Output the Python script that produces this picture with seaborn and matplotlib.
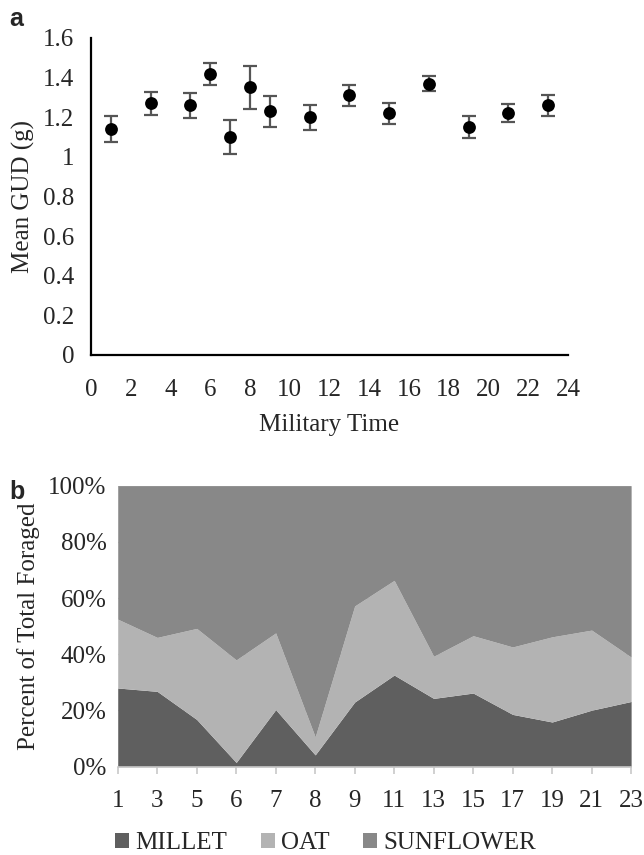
import numpy as np
import pandas as pd
import matplotlib
matplotlib.use("Agg")
import matplotlib.pyplot as plt
from matplotlib.patches import Patch
import seaborn as sns

# Panel a: mean giving-up density by hour
hours = [1, 3, 5, 6, 7, 8, 9, 11, 13, 15, 17, 19, 21, 23]
mean_gud = [1.14, 1.27, 1.26, 1.42, 1.10, 1.35, 1.23, 1.20, 1.31, 1.22, 1.37, 1.15, 1.22, 1.26]
gud_err = [0.064, 0.058, 0.063, 0.056, 0.088, 0.108, 0.078, 0.062, 0.052, 0.053, 0.040, 0.055, 0.045, 0.052]

# Panel b: percent of total foraged by seed type (categorical hours)
time_labels = ["1", "3", "5", "6", "7", "8", "9", "11", "13", "15", "17", "19", "21", "23"]
millet = [28.0, 26.8, 16.8, 1.5, 20.3, 4.2, 23.0, 32.6, 24.3, 26.2, 18.6, 15.9, 20.1, 23.2]
oat_top = [52.5, 46.0, 49.2, 38.0, 47.6, 10.6, 57.2, 66.3, 39.3, 46.6, 42.6, 46.2, 48.6, 39.0]
oat = [t - m for t, m in zip(oat_top, millet)]
sunflower = [100 - t for t in oat_top]

seed_names = ["MILLET", "OAT", "SUNFLOWER"]
seed_colors = ["#5f5f5f", "#b3b3b3", "#888888"]

FS = 18

sns.set_theme(style="white")
plt.rcParams['font.family'] = ['Liberation Serif', 'DejaVu Serif']

fig = plt.figure(figsize=(6.44, 8.55), dpi=100)

# ---- panel a ----
ax1 = fig.add_axes([0.1413, 0.5848, 0.7407, 0.3708])
df_a = pd.DataFrame({"hour": hours, "gud": mean_gud, "err": gud_err})
ax1.errorbar(df_a["hour"], df_a["gud"], yerr=df_a["err"], fmt="none",
             ecolor="#555555", elinewidth=1.6, capsize=5, capthick=1.6, zorder=2)
sns.scatterplot(data=df_a, x="hour", y="gud", ax=ax1, color="black", s=85,
                edgecolor="black", linewidth=0, zorder=3, legend=False)
ax1.set_xlim(0, 24)
ax1.set_ylim(0, 1.6)
ax1.set_xticks(range(0, 25, 2))
ax1.set_yticks(np.arange(0, 1.61, 0.2))
ax1.set_yticklabels(["0", "0.2", "0.4", "0.6", "0.8", "1", "1.2", "1.4", "1.6"])
ax1.tick_params(axis="x", length=0, labelsize=FS, pad=17)
ax1.tick_params(axis="y", length=0, labelsize=FS, pad=12)
ax1.set_xlabel("Military Time", fontsize=FS, labelpad=10)
ax1.set_ylabel("Mean GUD (g)", fontsize=FS, labelpad=6)
for s in ["top", "right"]:
    ax1.spines[s].set_visible(False)
for s in ["left", "bottom"]:
    ax1.spines[s].set_color("black")
    ax1.spines[s].set_linewidth(1.6)

# ---- panel b ----
ax2 = fig.add_axes([0.1828, 0.1033, 0.7972, 0.3287])
pos = np.arange(len(time_labels))
ax2.stackplot(pos, millet, oat, sunflower, colors=seed_colors, linewidth=0, zorder=2)
ax2.set_xlim(0, len(time_labels) - 1)
ax2.set_ylim(0, 100)
ax2.set_xticks(pos)
ax2.set_xticklabels(time_labels)
ax2.set_yticks(range(0, 101, 20))
ax2.set_yticklabels([f"{v}%" for v in range(0, 101, 20)])
ax2.yaxis.grid(True, color="#d9d9d9", linewidth=1, zorder=1)
ax2.set_axisbelow(True)
ax2.tick_params(axis="x", length=5, color="#c8c8c8", width=1.2, labelsize=FS, pad=12, bottom=True)
ax2.tick_params(axis="y", length=0, labelsize=FS, pad=8)
ax2.set_ylabel("Percent of Total Foraged", fontsize=FS, labelpad=6)
for s in ["top", "right", "left"]:
    ax2.spines[s].set_visible(False)
ax2.spines["bottom"].set_color("#c8c8c8")
ax2.spines["bottom"].set_linewidth(1.2)

handles = [Patch(facecolor=c, edgecolor="none", label=n) for n, c in zip(seed_names, seed_colors)]
fig.legend(handles=handles, loc="center", bbox_to_anchor=(0.506, 0.014), ncol=3,
           frameon=False, fontsize=FS, handlelength=0.55, handleheight=0.55,
           handletextpad=0.25, columnspacing=1.35)

fig.text(0.015, 0.978, "a", fontsize=18, fontweight="bold", family="Liberation Sans", va="center")
fig.text(0.015, 0.424, "b", fontsize=18, fontweight="bold", family="Liberation Sans", va="center")

fig.savefig("out.png", dpi=100)
